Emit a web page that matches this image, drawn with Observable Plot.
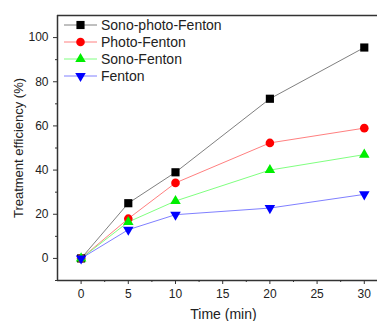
<!DOCTYPE html>
<html>
<head>
<meta charset="utf-8">
<script src="https://cdn.jsdelivr.net/npm/d3@7"></script>
<script src="https://cdn.jsdelivr.net/npm/@observablehq/plot@0.6"></script>
<style>
  html, body { margin: 0; padding: 0; background: #fff; }
  #chart { position: relative; width: 377px; height: 321px; }
</style>
</head>
<body>
<div id="chart"></div>
<script>
const times = [0, 5, 10, 20, 30];
const seriesNames = ["Sono-photo-Fenton", "Photo-Fenton", "Sono-Fenton", "Fenton"];
const sonoPhotoFenton = [0, 25, 39, 72.3, 95.5];
const photoFenton = [0, 18, 34.2, 52.3, 59];
const sonoFenton = [0, 16.5, 26, 40, 47];
const fenton = [0, 13, 19.8, 22.8, 29];
const markerColors = ["#000000", "#ff0000", "#00ee00", "#0000ff"];
const lineColors = ["#808080", "#ff8080", "#80ff80", "#8080ff"];
const xMajorTicks = [0, 5, 10, 15, 20, 25, 30];
const xMinorTicks = [2.5, 7.5, 12.5, 17.5, 22.5, 27.5];
const yMajorTicks = [0, 20, 40, 60, 80, 100];
const yMinorTicks = [-10, 10, 30, 50, 70, 90];

const allValues = [sonoPhotoFenton, photoFenton, sonoFenton, fenton];

const sqrt3 = Math.sqrt(3);
const triangleDown = {
  draw(context, size) {
    const y = -Math.sqrt(size / (sqrt3 * 3));
    context.moveTo(0, -y * 2);
    context.lineTo(-sqrt3 * y, y);
    context.lineTo(sqrt3 * y, y);
    context.closePath();
  }
};
const symbols = ["square", "circle", "triangle", triangleDown];
const radii = [4.6, 4.3, 3.9, 3.9];

const marks = [];
// frame lines
marks.push(Plot.ruleY([-10], {stroke: "#333", strokeWidth: 1.5}));
marks.push(Plot.ruleY([110], {stroke: "#333", strokeWidth: 1.5}));
marks.push(Plot.ruleX([-2.5], {stroke: "#333", strokeWidth: 1.5}));
// axes
marks.push(Plot.axisX({ticks: xMajorTicks, tickSize: 4, tickPadding: 5, label: null, fontSize: 12, stroke: "#333", fill: "#222"}));
marks.push(Plot.axisX({ticks: xMinorTicks, tickSize: 2, tickFormat: () => "", label: null, stroke: "#333"}));
marks.push(Plot.axisY({ticks: yMajorTicks, tickSize: 4, tickPadding: 5, label: null, fontSize: 12, stroke: "#333", fill: "#222"}));
marks.push(Plot.axisY({ticks: yMinorTicks, tickSize: 2, tickFormat: () => "", label: null, stroke: "#333"}));
// axis titles
marks.push(Plot.text(["Time (min)"], {frameAnchor: "bottom", dy: 34, dx: 6, lineAnchor: "middle", textAnchor: "middle", fontSize: 14, fill: "#222"}));
marks.push(Plot.text(["Treatment efficiency (%)"], {frameAnchor: "left", dx: -39, rotate: -90, textAnchor: "middle", lineAnchor: "middle", fontSize: 13, fill: "#222"}));

seriesNames.forEach((name, i) => {
  const data = times.map((t, j) => ({time: t, value: allValues[i][j], series: name}));
  marks.push(Plot.line(data, {x: "time", y: "value", stroke: lineColors[i], strokeWidth: 1}));
});
seriesNames.forEach((name, i) => {
  const data = times.map((t, j) => ({time: t, value: allValues[i][j], series: name}));
  marks.push(Plot.dot(data, {x: "time", y: "value", symbol: () => symbols[i], r: radii[i], fill: markerColors[i], stroke: "none"}));
});

const svg = Plot.plot({
  width: 377,
  height: 321,
  marginLeft: 57,
  marginRight: 0,
  marginTop: 15,
  marginBottom: 41,
  style: {fontFamily: "'Liberation Sans', Arial, sans-serif", fontSize: "12px", background: "#fff"},
  x: {domain: [-2.5, 31.4]},
  y: {domain: [-10, 110]},
  symbol: {type: "identity"},
  marks
});

// Legend inside the plot frame, top-left
const g = d3.select(svg).append("g").attr("class", "legend").attr("text-anchor", "start");
const legendX = 64, legendY0 = 25, legendStep = 17;
seriesNames.forEach((name, i) => {
  const y = legendY0 + i * legendStep;
  g.append("line").attr("x1", legendX).attr("x2", legendX + 33).attr("y1", y).attr("y2", y)
    .attr("stroke", lineColors[i]).attr("stroke-width", 1);
  const sym = typeof symbols[i] === "string"
    ? {square: d3.symbolSquare, circle: d3.symbolCircle, triangle: d3.symbolTriangle}[symbols[i]]
    : symbols[i];
  g.append("path").attr("d", d3.symbol(sym, Math.PI * radii[i] * radii[i])())
    .attr("transform", `translate(${legendX + 16.5},${y})`).attr("fill", markerColors[i]);
  g.append("text").attr("x", legendX + 37).attr("y", y).attr("dy", "0.35em")
    .attr("text-anchor", "start")
    .attr("font-size", 14).attr("fill", "#222").text(name);
});

document.getElementById("chart").appendChild(svg);
</script>
</body>
</html>
